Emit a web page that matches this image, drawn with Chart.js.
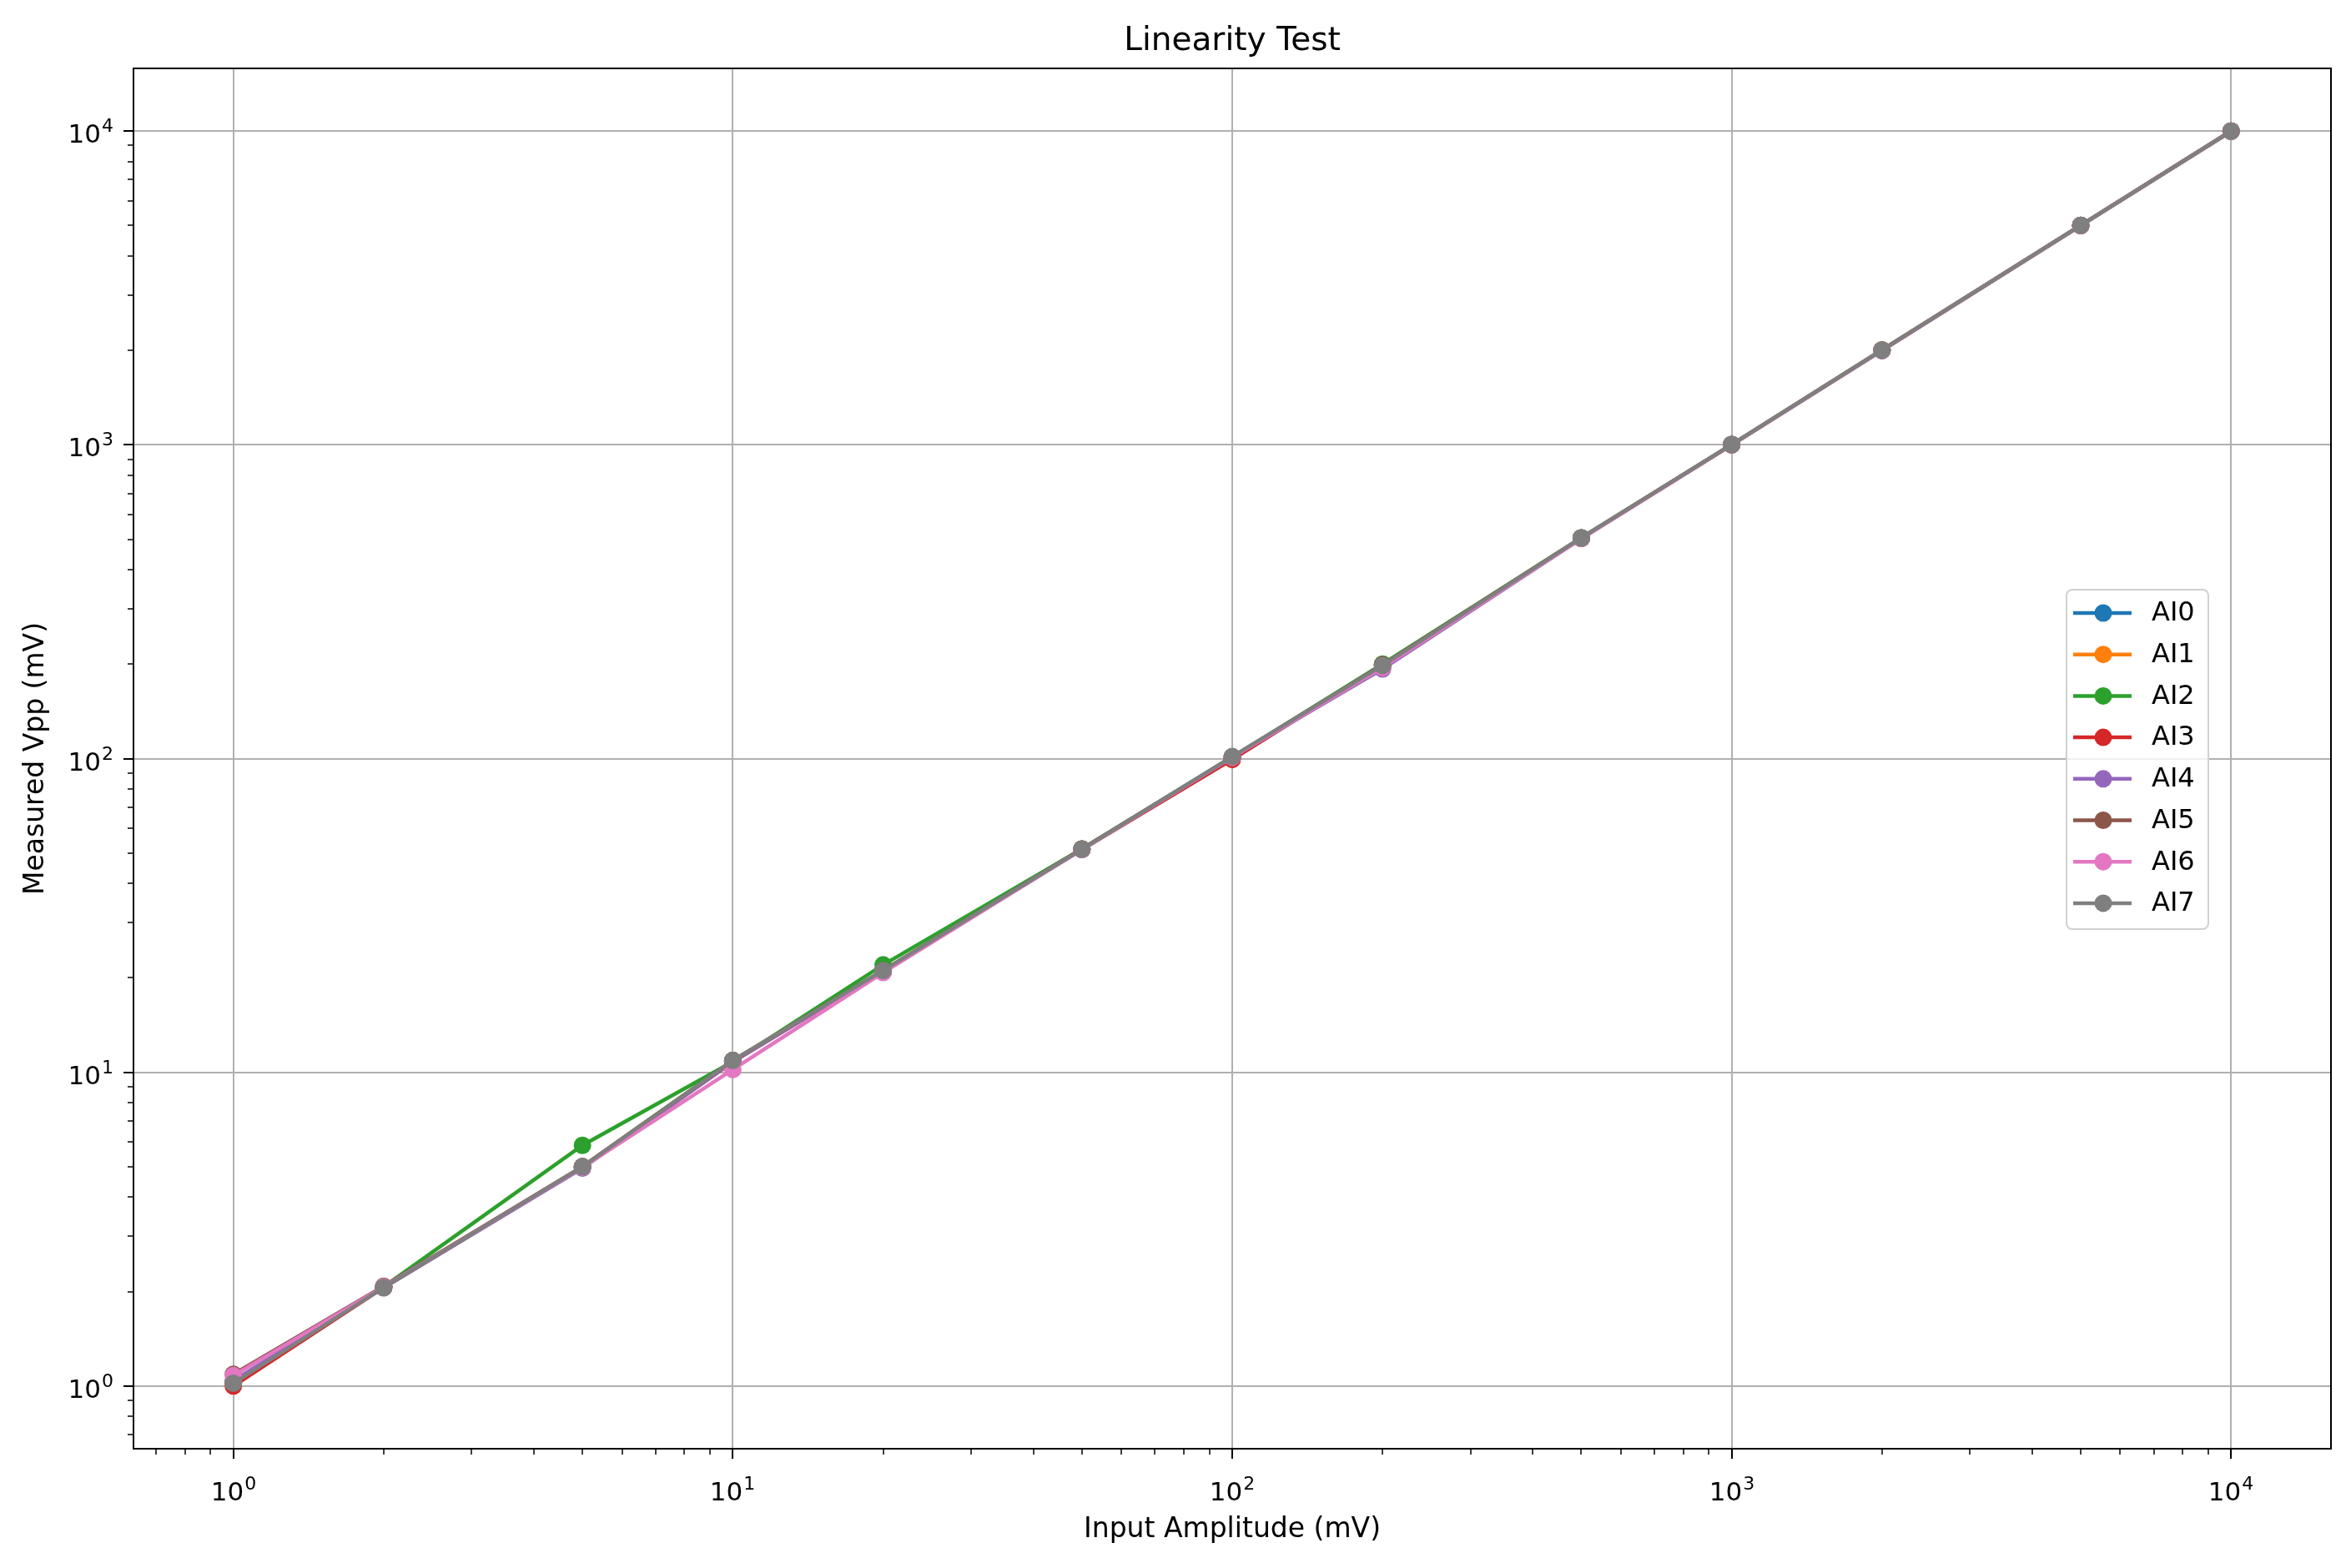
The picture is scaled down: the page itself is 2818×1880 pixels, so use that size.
<!DOCTYPE html>
<html><head><meta charset="utf-8">
<script src="https://cdn.jsdelivr.net/npm/chart.js@4.4.1/dist/chart.umd.min.js"></script>
<style>html,body{margin:0;padding:0;background:#fff;} canvas{display:block;}</style>
</head><body>
<canvas id="c" width="2818" height="1880"></canvas>
<script>
// ---- data ----
const inputAmplitude = [1, 2, 5, 10, 20, 50, 100, 200, 500, 1000, 2000, 5000, 10000];
const seriesNames = ['AI0', 'AI1', 'AI2', 'AI3', 'AI4', 'AI5', 'AI6', 'AI7'];
const AI0 = [1.03, 2.07, 5.00, 10.9, 21.1, 51.5, 101, 199, 505, 1002, 2005, 5010, 10000];
const AI1 = [1.03, 2.07, 5.00, 10.9, 21.1, 51.5, 101, 199, 505, 1002, 2005, 5010, 10000];
const AI2 = [1.02, 2.07, 5.85, 10.8, 22.0, 51.5, 101, 200, 505, 1002, 2005, 5010, 10000];
const AI3 = [1.00, 2.06, 4.97, 10.8, 21.0, 51.3, 99.3, 198, 503, 1000, 2000, 5000, 10000];
const AI4 = [1.04, 2.06, 4.95, 10.8, 21.0, 51.3, 101, 193, 503, 1000, 2000, 5000, 10000];
const AI5 = [1.09, 2.08, 5.00, 10.9, 21.1, 51.5, 101, 199, 505, 1002, 2005, 5010, 10000];
const AI6 = [1.08, 2.07, 4.98, 10.2, 20.8, 51.3, 101, 195, 503, 1000, 2000, 5000, 10000];
const AI7 = [1.02, 2.06, 5.00, 10.9, 21.1, 51.4, 101.5, 198, 505, 1002, 2003, 5005, 10000];
const seriesValues = [AI0, AI1, AI2, AI3, AI4, AI5, AI6, AI7];
const seriesColors = ['#1f77b4', '#ff7f0e', '#2ca02c', '#d62728', '#9467bd', '#8c564b', '#e377c2', '#7f7f7f'];
const majorTicks = [1, 10, 100, 1000, 10000];
const majorTickExponents = ['0', '1', '2', '3', '4'];
const minorMantissas = [2, 3, 4, 5, 6, 7, 8, 9];
const axisMin = 0.631, axisMax = 15849;
const titleText = 'Linearity Test';
const xTitle = 'Input Amplitude (mV)';
const yTitle = 'Measured Vpp (mV)';

const FONT = '"DejaVu Sans", sans-serif';

function buildTicks(scale) {
  const ticks = [];
  for (let k = -1; k <= 4; k++) {
    const base = Math.pow(10, k);
    const mi = majorTicks.indexOf(base);
    if (mi >= 0) ticks.push({value: base, major: true, pow: majorTickExponents[mi]});
    minorMantissas.forEach(m => {
      const v = m * base;
      if (v >= axisMin && v <= axisMax) ticks.push({value: v, major: false, pow: ''});
    });
  }
  ticks.sort((a, b) => a.value - b.value);
  scale.ticks = ticks;
  scale.min = axisMin;
  scale.max = axisMax;
}

const gridColor = ctx => (ctx.tick && ctx.tick.major) ? '#b0b0b0' : 'rgba(0,0,0,0)';

const datasets = seriesValues.map((vals, i) => ({
  label: seriesNames[i],
  data: inputAmplitude.map((x, j) => ({x: x, y: vals[j]})),
  borderColor: seriesColors[i],
  backgroundColor: seriesColors[i],
  pointBackgroundColor: seriesColors[i],
  pointBorderColor: seriesColors[i],
  borderWidth: 4.5,
  pointRadius: 10.5,
  pointBorderWidth: 0,
  pointHoverRadius: 10.5,
  tension: 0,
  order: seriesNames.length - 1 - i
}));

function drawPow(ctx, exp, x, baseline, align) {
  ctx.font = '31px ' + FONT;
  const w1 = ctx.measureText('10').width;
  ctx.font = '22px ' + FONT;
  const w2 = ctx.measureText(exp).width;
  const total = w1 + w2 + 1;
  let start = align === 'center' ? x - total / 2 : x - total;
  ctx.textAlign = 'left';
  ctx.textBaseline = 'alphabetic';
  ctx.font = '31px ' + FONT;
  ctx.fillText('10', start, baseline);
  ctx.font = '22px ' + FONT;
  ctx.fillText(exp, start + w1 + 1, baseline - 13);
}

const decor = {
  id: 'decor',
  afterDraw(chart) {
    const {ctx, chartArea: a, scales: {x, y}} = chart;
    ctx.save();
    ctx.fillStyle = '#000';
    ctx.strokeStyle = '#000';
    // tick marks
    x.ticks.forEach(t => {
      const px = Math.round(x.getPixelForValue(t.value));
      ctx.lineWidth = t.major ? 2 : 1.5;
      ctx.beginPath(); ctx.moveTo(px, a.bottom); ctx.lineTo(px, a.bottom + (t.major ? 12 : 7)); ctx.stroke();
      if (t.major) drawPow(ctx, t.pow, px, a.bottom + 62, 'center');
    });
    y.ticks.forEach(t => {
      const py = Math.round(y.getPixelForValue(t.value));
      ctx.lineWidth = t.major ? 2 : 1.5;
      ctx.beginPath(); ctx.moveTo(a.left, py); ctx.lineTo(a.left - (t.major ? 12 : 7), py); ctx.stroke();
      if (t.major) drawPow(ctx, t.pow, a.left - 24, py + 14, 'right');
    });
    // frame
    ctx.lineWidth = 2;
    ctx.strokeStyle = '#000';
    ctx.strokeRect(a.left, a.top, a.right - a.left, a.bottom - a.top);
    // titles
    ctx.fillStyle = '#000';
    ctx.textAlign = 'center';
    ctx.textBaseline = 'middle';
    ctx.font = '39px ' + FONT;
    ctx.fillText(titleText, (a.left + a.right) / 2, 50);
    ctx.font = '33px ' + FONT;
    ctx.fillText(xTitle, (a.left + a.right) / 2, 1834);
    ctx.save();
    ctx.translate(43, (a.top + a.bottom) / 2);
    ctx.rotate(-Math.PI / 2);
    ctx.fillText(yTitle, 0, 0);
    ctx.restore();
    // legend
    const lx = 2477, ly = 707, lw = 170, lh = 407;
    ctx.beginPath();
    ctx.roundRect(lx, ly, lw, lh, 7);
    ctx.fillStyle = 'rgba(255,255,255,0.8)';
    ctx.fill();
    ctx.lineWidth = 2;
    ctx.strokeStyle = '#d0d0d0';
    ctx.stroke();
    chart.data.datasets.forEach((ds, i) => {
      const cy = 735 + i * 49.7;
      ctx.strokeStyle = ds.borderColor;
      ctx.lineWidth = 4.5;
      ctx.beginPath(); ctx.moveTo(2485, cy); ctx.lineTo(2555, cy); ctx.stroke();
      ctx.fillStyle = ds.borderColor;
      ctx.beginPath(); ctx.arc(2521, cy, 10.5, 0, Math.PI * 2); ctx.fill();
      ctx.fillStyle = '#000';
      ctx.textAlign = 'left';
      ctx.textBaseline = 'middle';
      ctx.font = '32px ' + FONT;
      ctx.fillText(ds.label, 2579, cy + 1);
    });
    ctx.restore();
  }
};

new Chart(document.getElementById('c'), {
  type: 'line',
  data: {datasets},
  options: {
    responsive: false,
    animation: false,
    events: [],
    layout: {padding: {left: 160, right: 24, top: 82, bottom: 143}},
    plugins: {legend: {display: false}, tooltip: {enabled: false}, title: {display: false}},
    scales: {
      x: {
        type: 'logarithmic', min: axisMin, max: axisMax,
        afterBuildTicks: buildTicks,
        ticks: {display: false, autoSkip: false},
        grid: {color: gridColor, lineWidth: 2, drawTicks: false},
        border: {display: false}
      },
      y: {
        type: 'logarithmic', min: axisMin, max: axisMax,
        afterBuildTicks: buildTicks,
        ticks: {display: false, autoSkip: false},
        grid: {color: gridColor, lineWidth: 2, drawTicks: false},
        border: {display: false}
      }
    }
  },
  plugins: [decor]
});
</script>
</body></html>
